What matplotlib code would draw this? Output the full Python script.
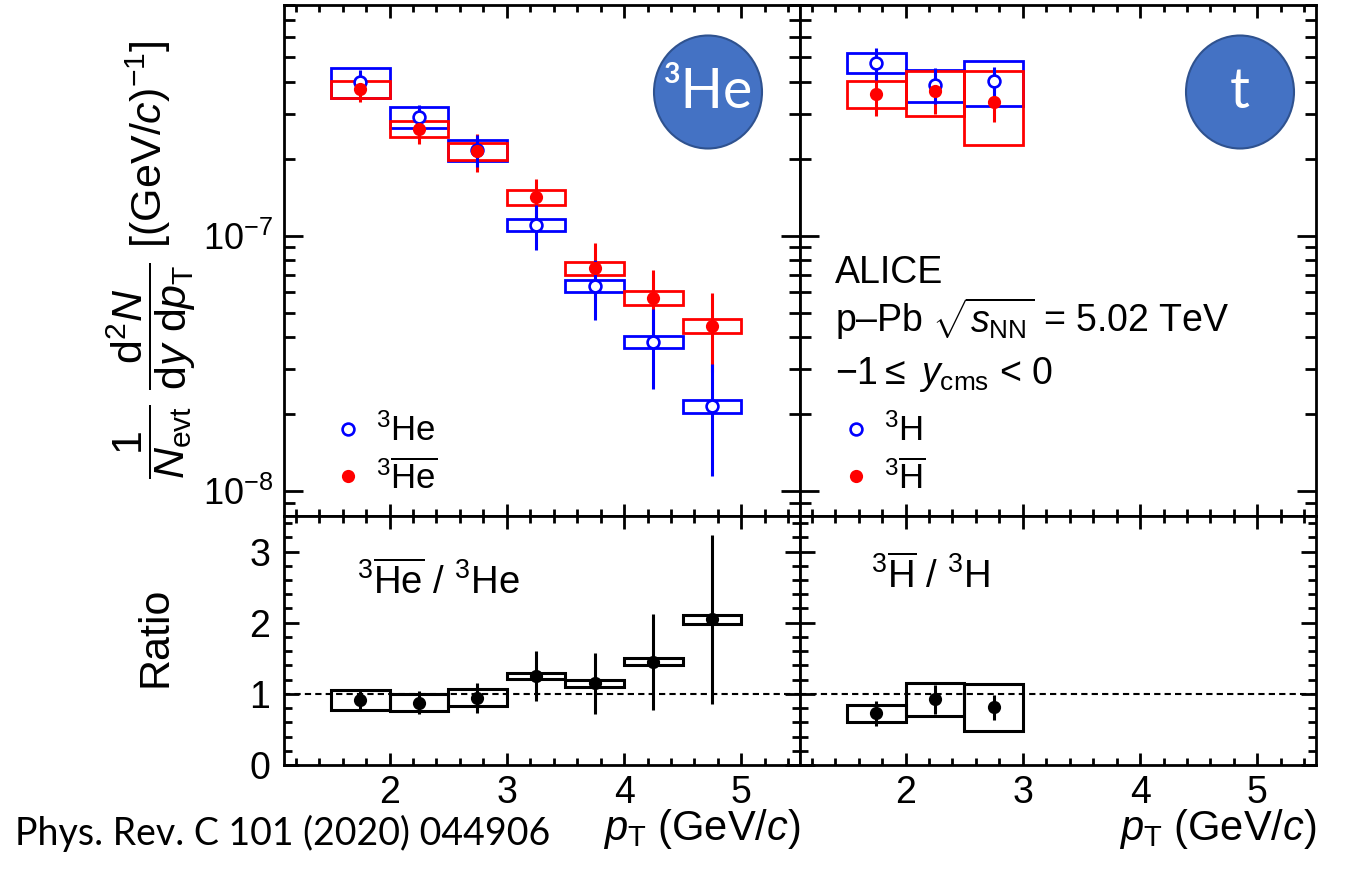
import numpy as np
import matplotlib.pyplot as plt
from matplotlib import font_manager
from matplotlib.patches import Ellipse
from matplotlib.lines import Line2D
from matplotlib.ticker import MultipleLocator, LogLocator, NullFormatter

plt.rcParams['font.family'] = 'Liberation Sans'
plt.rcParams['mathtext.fontset'] = 'custom'
plt.rcParams['mathtext.rm'] = 'Liberation Sans'
plt.rcParams['mathtext.it'] = 'Liberation Sans:italic'
plt.rcParams['mathtext.bf'] = 'Liberation Sans:bold'
plt.rcParams['axes.linewidth'] = 2.0

# tick numbers are in a condensed face in the original
installed = {f.name for f in font_manager.fontManager.ttflist}
NARROW = 'Liberation Sans Narrow' if 'Liberation Sans Narrow' in installed else 'Liberation Sans'

# pT bin centres (GeV/c), bins are 0.5 wide
he_pt = [1.75, 2.25, 2.75, 3.25, 3.75, 4.25, 4.75]
t_pt = [1.75, 2.25, 2.75]
bin_w = 0.5

# 3He and anti-3He spectra, in units of 1e-7 (GeV/c)^-1
he_y = [4.00, 2.91, 2.17, 1.10, 0.637, 0.385, 0.215]
he_stat = [0.44, 0.34, 0.31, 0.22, 0.170, 0.133, 0.100]
he_sys = [0.53, 0.28, 0.21, 0.06, 0.033, 0.021, 0.012]
ahe_y = [3.76, 2.62, 2.14, 1.415, 0.747, 0.573, 0.444]
ahe_stat = [0.42, 0.34, 0.36, 0.255, 0.189, 0.163, 0.152]
ahe_sys = [0.29, 0.19, 0.16, 0.09, 0.045, 0.035, 0.028]

# triton and anti-triton spectra, units 1e-7
t_y = [4.76, 3.90, 4.02]
t_stat = [0.69, 0.63, 0.55]
t_sys = [0.43, 0.56, 0.81]
at_y = [3.59, 3.67, 3.34]
at_stat = [0.65, 0.67, 0.55]
at_sys = [0.43, 0.74, 1.07]

# anti/matter ratios
he_ratio = [0.915, 0.875, 0.945, 1.248, 1.146, 1.449, 2.048]
he_ratio_stat = [0.13, 0.165, 0.21, 0.35, 0.435, 0.67, 1.19]
he_ratio_sys = [0.145, 0.117, 0.118, 0.045, 0.05, 0.05, 0.065]
t_ratio = [0.725, 0.921, 0.809]
t_ratio_stat = [0.18, 0.21, 0.18]
t_ratio_sys = [0.12, 0.234, 0.325]

SCALE = 1e-7


def sys_boxes(ax, x, y, sys, color, lw=2.0):
    y = np.asarray(y)
    sys = np.asarray(sys)
    ax.bar(x, 2 * sys, bottom=y - sys, width=bin_w, fill=False,
           edgecolor=color, linewidth=lw, zorder=2)


def spectrum_panel(ax, x, y, stat, sys, ay, astat, asys):
    y = np.asarray(y) * SCALE
    stat = np.asarray(stat) * SCALE
    sys = np.asarray(sys) * SCALE
    ay = np.asarray(ay) * SCALE
    astat = np.asarray(astat) * SCALE
    asys = np.asarray(asys) * SCALE
    sys_boxes(ax, x, y, sys, 'blue')
    sys_boxes(ax, x, ay, asys, 'red')
    ax.errorbar(x, ay, yerr=astat, fmt='none', ecolor='red', elinewidth=2.2, zorder=3)
    ax.errorbar(x, y, yerr=stat, fmt='none', ecolor='blue', elinewidth=2.2, zorder=4)
    ax.plot(x, y, 'o', ls='none', mfc='white', mec='blue', ms=8.5, mew=1.9, zorder=5)
    ax.plot(x, ay, 'o', ls='none', color='red', ms=9.5, mew=0, zorder=6)
    ax.set_yscale('log')
    ax.set_ylim(8e-9, 8e-7)
    ax.yaxis.set_minor_locator(LogLocator(base=10, subs=np.arange(2, 10)))
    ax.yaxis.set_minor_formatter(NullFormatter())
    ax.tick_params(axis='y', which='major', length=14, labelsize=26, pad=8)
    ax.tick_params(axis='y', which='minor', length=8)


def ratio_panel(ax, x, r, stat, sys):
    sys_boxes(ax, x, r, sys, 'black', lw=2.2)
    ax.axhline(1, color='black', lw=1.5, ls=(0, (3, 2)), zorder=1)
    ax.errorbar(x, r, yerr=stat, fmt='o', color='black', ms=9.5, mew=0,
                elinewidth=2.2, zorder=4)
    ax.set_ylim(0, 3.5)
    ax.yaxis.set_major_locator(MultipleLocator(1))
    ax.yaxis.set_minor_locator(MultipleLocator(0.2))
    ax.tick_params(axis='y', which='major', length=11)
    ax.tick_params(axis='y', which='minor', length=6)


fig = plt.figure(figsize=(13.45, 8.73), dpi=100)
W, H = 1345.0, 873.0


def box(x0, y0, x1, y1):
    return [x0 / W, 1 - y1 / H, (x1 - x0) / W, (y1 - y0) / H]


ax_he = fig.add_axes(box(284, 5, 800, 516))
ax_t = fig.add_axes(box(800, 5, 1316, 516))
ax_her = fig.add_axes(box(284, 516, 800, 765))
ax_tr = fig.add_axes(box(800, 516, 1316, 765))

for ax in [ax_he, ax_t, ax_her, ax_tr]:
    ax.tick_params(which='both', direction='in', top=True, right=True,
                   width=2.0, labelsize=27, labelfontfamily=NARROW)
    ax.tick_params(axis='x', which='major', length=9, pad=7)
    ax.tick_params(axis='x', which='minor', length=5)
    ax.tick_params(axis='y', pad=10)

spectrum_panel(ax_he, he_pt, he_y, he_stat, he_sys, ahe_y, ahe_stat, ahe_sys)
spectrum_panel(ax_t, t_pt, t_y, t_stat, t_sys, at_y, at_stat, at_sys)
ratio_panel(ax_her, he_pt, he_ratio, he_ratio_stat, he_ratio_sys)
ratio_panel(ax_tr, t_pt, t_ratio, t_ratio_stat, t_ratio_sys)

for ax in [ax_he, ax_t, ax_her, ax_tr]:
    ax.set_xlim(1.1, 5.5)
    ax.xaxis.set_major_locator(MultipleLocator(1))
    ax.xaxis.set_minor_locator(MultipleLocator(0.2))

ax_he.tick_params(labelbottom=False)
ax_t.tick_params(labelbottom=False, labelleft=False)
ax_tr.tick_params(labelleft=False)

# axis labels
fig.text(151 / W, 1 - 260 / H,
         r'$\dfrac{1}{N_{\rm evt}}\ \dfrac{{\rm d}^2N}{{\rm d}y\ {\rm d}p_{\rm T}}$ [(GeV/$c$)$^{-1}$]',
         rotation=90, ha='center', va='center', fontsize=31)
fig.text(155 / W, 1 - 637 / H, 'Ratio', rotation=90, ha='center', va='center', fontsize=31)
for ax in [ax_her, ax_tr]:
    ax.set_xlabel(r'$p_{\rm T}$ (GeV/$c$)', fontsize=30, loc='right')
    ax.xaxis.set_label_coords(1.0, -0.17)

# legends
he_handles = [Line2D([], [], marker='o', ls='none', mfc='none', mec='blue', ms=8.5, mew=1.9),
              Line2D([], [], marker='o', ls='none', color='red', ms=9.5, mew=0)]
ax_he.legend(he_handles, [r'$^{3}$He', r'$^{3}\overline{\rm He}$'], loc='lower left',
             bbox_to_anchor=(0.09, 0.04), frameon=False, fontsize=25, handlelength=1.0,
             handletextpad=0.3, labelspacing=0.35, borderpad=0, borderaxespad=0)
ax_t.legend(he_handles, [r'$^{3}$H', r'$^{3}\overline{\rm H}$'], loc='lower left',
            bbox_to_anchor=(0.075, 0.04), frameon=False, fontsize=25, handlelength=1.0,
            handletextpad=0.3, labelspacing=0.35, borderpad=0, borderaxespad=0)

# ALICE caption
ax_t.text(0.068, 0.456, 'ALICE', transform=ax_t.transAxes, fontsize=27, va='baseline')
ax_t.text(0.068, 0.360, r'p–Pb $\sqrt{s_{\rm NN}}$ = 5.02 TeV', transform=ax_t.transAxes,
          fontsize=27, va='baseline')
ax_t.text(0.068, 0.258, r'$-1 \leq\ y_{\rm cms}$ < 0', transform=ax_t.transAxes,
          fontsize=27, va='baseline')

# ratio captions
ax_her.text(0.141, 0.687, r'$^{3}\overline{\rm He}$ / $^{3}$He', transform=ax_her.transAxes,
            fontsize=27.5, va='baseline')
ax_tr.text(0.137, 0.711, r'$^{3}\overline{\rm H}$ / $^{3}$H', transform=ax_tr.transAxes,
           fontsize=27.5, va='baseline')

# particle badges
for cx, label in [(708, '³He'), (1240, 't')]:
    fig.add_artist(Ellipse((cx / W, 1 - 92 / H), 108 / W, 113 / H, transform=fig.transFigure,
                           facecolor='#4472C4', edgecolor='#2F528F', lw=1.5, zorder=10))
    fig.text(cx / W, 1 - 92 / H, label, color='white', fontsize=40, family='Lato',
             ha='center', va='center', zorder=11)

fig.text(15 / W, 1 - 845 / H, 'Phys. Rev. C 101 (2020) 044906', fontsize=27, family='Lato',
         va='baseline')

fig.savefig('out.png', dpi=100)
